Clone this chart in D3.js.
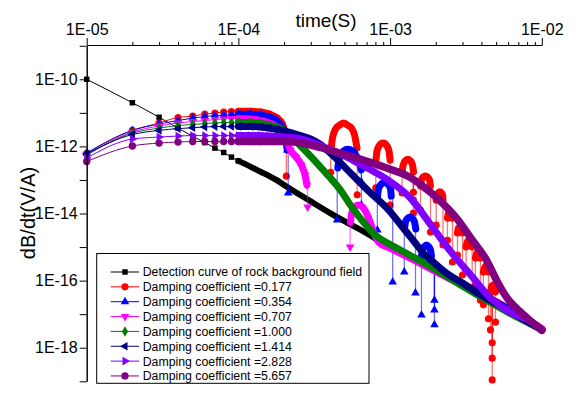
<!DOCTYPE html>
<html>
<head>
<meta charset="utf-8">
<script src="https://cdn.jsdelivr.net/npm/d3@7"></script>
<style>
  body { margin: 0; background: #fff; }
  svg { display: block; font-family: "Liberation Sans", Arial, sans-serif; }
</style>
</head>
<body>
<svg id="chart"></svg>
<script>
const width = 575;
const height = 395;

// ---------------- DATA (time in s, dB/dt in V/A) ----------------
const xTicks = [1e-5, 1e-4, 1e-3, 1e-2];
const yLabelTicks = [1e-10, 1e-12, 1e-14, 1e-16, 1e-18];

const legendNames = [
  "Detection curve of rock background field",
  "Damping coefficient =0.177",
  "Damping coefficient =0.354",
  "Damping coefficient =0.707",
  "Damping coefficient =1.000",
  "Damping coefficient =1.414",
  "Damping coefficient =2.828",
  "Damping coefficient =5.657"
];

// background field
const bgPts = [[1e-5,1.0e-10],[2e-5,2.0e-11],[3e-5,7.4e-12],[4e-5,3.5e-12],[5e-5,2.0e-12],[6e-5,1.3e-12],
  [7e-5,8.9e-13],[8e-5,6.6e-13],[9e-5,4.8e-13],[1e-4,3.7e-13]];
const bgTail = [[1.2e-4,2.5e-13],[1.4e-4,1.76e-13],[1.6e-4,1.31e-13],[1.8e-4,9.7e-14],[2e-4,7.1e-14],
  [3e-4,2.3e-14],[4e-4,1.05e-14],[5e-4,5.9e-15],[7e-4,2.6e-15],[1e-3,9.4e-16],[1.5e-3,3.8e-16],
  [2e-3,2.07e-16],[3e-3,7.9e-17],[5e-3,2.3e-17],[7e-3,1.0e-17],[1e-2,3.6e-18]];

// 0.177
const redPts = [[1e-5,6.2e-13],[2e-5,3.0e-12],[3e-5,5.0e-12],[4e-5,7.3e-12],[5e-5,8.0e-12],[6e-5,9.2e-12],
  [7e-5,9.9e-12],[8e-5,1.06e-11],[9e-5,1.1e-11],[1e-4,1.11e-11],[1.2e-4,1.11e-11],[1.4e-4,1.06e-11],
  [1.6e-4,9.2e-12],[1.8e-4,7.0e-12],[1.95e-4,4.65e-12],[2.03e-4,2.7e-12]];
const redLobes = [
  [[4.08e-4,7.8e-13],[4.17e-4,1.78e-12],[4.37e-4,3.3e-12],[4.64e-4,4.3e-12],[4.93e-4,5.0e-12],[5.24e-4,4.3e-12],[5.57e-4,3.5e-12],[5.83e-4,2.19e-12],[6.05e-4,8.95e-13]],
  [[8.07e-4,3.9e-13],[8.2e-4,7.3e-13],[8.45e-4,1.03e-12],[8.98e-4,1.26e-12],[9.54e-4,1.03e-12],[9.83e-4,7.3e-13],[1.0e-3,3.9e-13]],
  [[1.2e-3,1.73e-13],[1.22e-3,2.79e-13],[1.254e-3,3.67e-13],[1.308e-3,4.13e-13],[1.363e-3,3.67e-13],[1.405e-3,2.79e-13],[1.427e-3,1.73e-13]],
  [[1.586e-3,6.6e-14],[1.61e-3,1.0e-13],[1.647e-3,1.22e-13],[1.706e-3,1.31e-13],[1.764e-3,1.22e-13],[1.818e-3,1.0e-13],[1.846e-3,6.6e-14]],
  [[2.012e-3,2.5e-14],[2.037e-3,3.6e-14],[2.084e-3,4.2e-14],[2.126e-3,4.47e-14],[2.175e-3,4.2e-14],[2.215e-3,3.6e-14],[2.232e-3,2.5e-14]],
  [[2.388e-3,7.3e-15],[2.425e-3,1.03e-14],[2.481e-3,1.13e-14],[2.538e-3,1.03e-14],[2.577e-3,7.3e-15]],
  [[2.78e-3,2.62e-15],[2.822e-3,3.7e-15],[2.887e-3,4.05e-15],[2.953e-3,3.7e-15],[3.0e-3,2.62e-15]],
  [[3.17e-3,1.0e-15],[3.22e-3,1.42e-15],[3.32e-3,1.6e-15],[3.42e-3,1.42e-15],[3.475e-3,1.0e-15]],
  [[3.65e-3,4.7e-16],[3.71e-3,6.2e-16],[3.79e-3,7.1e-16],[3.88e-3,6.2e-16],[3.94e-3,4.7e-16]],
  [[4.12e-3,1.8e-16],[4.19e-3,2.37e-16],[4.28e-3,2.72e-16],[4.38e-3,2.37e-16],[4.45e-3,1.8e-16]],
  [[4.59e-3,4.6e-17],[4.66e-3,6.4e-17],[4.76e-3,7.4e-17],[4.87e-3,6.4e-17],[4.95e-3,4.6e-17]],
  [[5.0e-3,2.4e-17],[6e-3,1.5e-17],[7e-3,1.05e-17],[1e-2,3.7e-18]]
];
// [time, top, bottom]
const redSpikes = [[2.07e-4,2.7e-12,1.3e-13],[4.06e-4,7.8e-13,1.7e-13],[6.07e-4,8.95e-13,3.6e-14],
  [8.05e-4,3.9e-13,5.8e-14],[1.0e-3,3.9e-13,1.8e-14],[1.2e-3,1.73e-13,4.1e-14],[1.425e-3,1.73e-13,4.3e-14],
  [1.425e-3,1.73e-13,2.5e-14],[1.425e-3,1.73e-13,1.03e-14],[1.586e-3,6.6e-14,1.27e-14],[1.846e-3,6.6e-14,2.8e-15],
  [2.012e-3,2.5e-14,4.5e-15],[2.232e-3,2.5e-14,1.15e-15],[2.388e-3,7.3e-15,1.6e-15],[2.577e-3,7.3e-15,3.6e-16],
  [2.78e-3,2.62e-15,5.8e-16],[3.0e-3,2.62e-15,1.47e-16],[3.17e-3,1.0e-15,2.07e-16],[3.475e-3,1.0e-15,5.2e-17],
  [3.65e-3,4.7e-16,7.4e-17],[3.94e-3,4.7e-16,2.6e-17],[4.12e-3,1.8e-16,1.9e-17],[4.45e-3,1.8e-16,7.3e-18],
  [4.59e-3,4.6e-17,3.4e-18],[4.71e-3,6.4e-17,1.4e-18],[4.71e-3,6.4e-17,4.9e-19],[4.71e-3,6.4e-17,1.1e-19],
  [4.95e-3,4.6e-17,5.8e-18]];

// 0.354
const bluePts = [[1e-5,6.4e-13],[2e-5,3.0e-12],[3e-5,4.65e-12],[4e-5,5.9e-12],[5e-5,7.0e-12],[6e-5,7.8e-12],
  [7e-5,8.3e-12],[8e-5,8.6e-12],[9e-5,8.9e-12],[1e-4,9.1e-12],[1.2e-4,9.1e-12],[1.4e-4,8.6e-12],
  [1.6e-4,7.5e-12],[1.8e-4,5.7e-12],[1.95e-4,3.5e-12],[2.05e-4,1.55e-12],[2.1e-4,7.8e-13]];
const blueLobes = [
  [[4.52e-4,2.27e-13],[4.64e-4,4.5e-13],[4.86e-4,6.8e-13],[5.24e-4,8.2e-13],[5.65e-4,7.3e-13],[6.0e-4,5.2e-13],[6.29e-4,3.2e-13],[6.45e-4,2.0e-13]],
  [[8.26e-4,3.3e-14],[8.39e-4,5.4e-14],[8.65e-4,7.1e-14],[9.19e-4,8.4e-14],[9.76e-4,7.1e-14],[1.006e-3,5.4e-14],[1.017e-3,3.3e-14]],
  [[1.244e-3,3.45e-15],[1.263e-3,5.6e-15],[1.302e-3,7.1e-15],[1.352e-3,7.9e-15],[1.405e-3,7.1e-15],[1.448e-3,5.6e-15],[1.477e-3,3.45e-15]],
  [[1.61e-3,5.4e-16],[1.635e-3,8.2e-16],[1.685e-3,1.04e-15],[1.738e-3,1.15e-15],[1.791e-3,1.04e-15],[1.846e-3,8.2e-16],[1.874e-3,5.4e-16]],
  [[2.1e-3,2.0e-16],[3e-3,8.0e-17],[5e-3,2.25e-17],[7e-3,1.0e-17],[1e-2,3.6e-18]]
];
const blueSpikes = [[2.13e-4,7.8e-13,4.1e-14],[4.48e-4,2.27e-13,6.4e-15],[6.47e-4,2.0e-13,8.7e-14],
  [6.47e-4,2.0e-13,1.8e-14],[8.24e-4,3.3e-14,3.2e-15],[1.04e-3,3.3e-14,9.1e-17],[1.24e-3,3.45e-15,1.8e-16],
  [1.47e-3,3.45e-15,4.3e-17],[1.61e-3,5.4e-16,9.4e-18],[1.96e-3,2.6e-16,2.6e-17],[1.96e-3,2.6e-16,1.33e-17],
  [1.96e-3,2.6e-16,4.8e-18]];

// 0.707
const magentaPts = [[1e-5,5.5e-13],[2e-5,2.7e-12],[3e-5,4.05e-12],[4e-5,5.0e-12],[5e-5,5.5e-12],[6e-5,5.9e-12],
  [7e-5,6.3e-12],[8e-5,6.6e-12],[9e-5,6.8e-12],[1e-4,6.8e-12],[1.2e-4,6.6e-12],[1.4e-4,5.9e-12],
  [1.6e-4,5.0e-12],[1.8e-4,3.8e-12],[2e-4,2.34e-12],[2.2e-4,7.8e-13],[2.4e-4,4.8e-13],[2.6e-4,2.8e-13],
  [2.75e-4,1.4e-13],[2.83e-4,7.1e-14]];
const magentaLobes = [
  [[5.48e-4,5.6e-15],[5.61e-4,1.11e-14],[5.83e-4,1.56e-14],[6.19e-4,1.8e-14],[6.58e-4,1.56e-14],[6.99e-4,1.03e-14],
   [7.43e-4,5.2e-15],[7.89e-4,2.3e-15],[8.51e-4,1.32e-15],[9.91e-4,9.4e-16],[1.5e-3,3.7e-16],[2e-3,1.85e-16],
   [3e-3,7.2e-17],[5e-3,2.05e-17],[7e-3,9.5e-18],[1e-2,3.6e-18]]
];
const magentaSpikes = [[2.86e-4,7.1e-14,1.56e-14],[5.45e-4,5.6e-15,1.0e-15]];

// 1.000
const greenPts = [[1e-5,5.5e-13],[2e-5,2.5e-12],[3e-5,3.5e-12],[4e-5,4.2e-12],[5e-5,4.5e-12],[6e-5,4.8e-12],
  [7e-5,5.0e-12],[8e-5,5.15e-12],[9e-5,5.2e-12],[1e-4,5.2e-12],[1.2e-4,5.15e-12],[1.4e-4,4.8e-12],
  [1.6e-4,4.3e-12],[1.8e-4,3.65e-12],[2e-4,2.9e-12]];
const greenTail = [[2.3e-4,1.66e-12],[2.65e-4,8.95e-13],[3.43e-4,2.6e-13],[3.99e-4,1.22e-13],[4.64e-4,5.4e-14],
  [5.65e-4,1.46e-14],[6.58e-4,6.0e-15],[7.32e-4,3.45e-15],[8.14e-4,2.13e-15],[9.91e-4,1.23e-15],
  [1.342e-3,5.8e-16],[1.818e-3,2.72e-16],[2.462e-3,1.19e-16],[3.88e-3,3.47e-17],[6.12e-3,1.08e-17],[1e-2,3.5e-18]];

// 1.414
const navyPts = [[1e-5,6.0e-13],[2e-5,2.26e-12],[3e-5,3.0e-12],[4e-5,3.4e-12],[5e-5,3.6e-12],[6e-5,3.8e-12],
  [7e-5,3.9e-12],[8e-5,3.92e-12],[9e-5,3.92e-12],[1e-4,3.92e-12],[1.2e-4,3.92e-12],[1.4e-4,3.8e-12],
  [1.6e-4,3.5e-12],[1.8e-4,3.2e-12],[2e-4,2.9e-12]];
const navyTail = [[2.5e-4,2.19e-12],[2.99e-4,1.66e-12],[3.43e-4,1.18e-12],[4.37e-4,4.5e-13],[5.65e-4,1.4e-13],
  [7.32e-4,4.4e-14],[9.67e-4,1.36e-14],[1.207e-3,3.96e-15],[1.448e-3,1.42e-15],[1.66e-3,6.65e-16],
  [1.96e-3,3.35e-16],[2.35e-3,1.69e-16],[3.0e-3,8.5e-17],[3.88e-3,4.0e-17],[5.5e-3,1.63e-17],[1e-2,3.4e-18]];

// 2.828
const violetPts = [[1e-5,4.5e-13],[2e-5,1.66e-12],[3e-5,1.9e-12],[4e-5,2.04e-12],[5e-5,2.1e-12],[6e-5,2.1e-12],
  [7e-5,2.1e-12],[8e-5,2.1e-12],[9e-5,2.1e-12],[1e-4,2.1e-12],[1.2e-4,2.1e-12],[1.4e-4,2.1e-12],
  [1.6e-4,2.04e-12],[1.8e-4,1.97e-12],[2e-4,1.9e-12]];
const violetTail = [[2.5e-4,1.72e-12],[3.81e-4,8.95e-13],[5.01e-4,5.2e-13],[6.29e-4,3.0e-13],[7.89e-4,1.73e-13],
  [9.91e-4,9.3e-14],[1.342e-3,3.1e-14],[1.818e-3,5.2e-15],[2.462e-3,8.2e-16],[2.866e-3,3.6e-16],
  [3.49e-3,1.28e-16],[4.52e-3,3.24e-17],[6.12e-3,1.16e-17],[8.29e-3,6.3e-18],[1e-2,3.3e-18]];

// 5.657
const purplePts = [[1e-5,3.55e-13],[2e-5,1.03e-12],[3e-5,1.26e-12],[4e-5,1.35e-12],[5e-5,1.4e-12],[6e-5,1.4e-12],
  [7e-5,1.4e-12],[8e-5,1.4e-12],[9e-5,1.4e-12],[1e-4,1.4e-12],[1.2e-4,1.4e-12],[1.4e-4,1.4e-12],
  [1.6e-4,1.4e-12],[1.8e-4,1.4e-12],[2e-4,1.4e-12]];
const purpleTail = [[2.5e-4,1.3e-12],[3e-4,1.1e-12],[3.99e-4,7.8e-13],[5.4e-4,5.2e-13],[7.32e-4,3.4e-13],
  [9.91e-4,2.12e-13],[1.342e-3,1.22e-13],[1.635e-3,6.6e-14],[2.115e-3,2.5e-14],[2.74e-3,7.3e-15],
  [3.49e-3,1.6e-15],[4.32e-3,4.1e-16],[5.02e-3,1.05e-16],[5.85e-3,3.24e-17],[7.12e-3,1.24e-17],
  [8.29e-3,6.7e-18],[1e-2,3.3e-18]];

// ---------------- SERIES SETUP ----------------
const series = [
  { color: "#000000", sym: d3.symbolSquare,   rot: 0,   size: 30, band: 6,   pts: bgPts,      tail: bgTail },
  { color: "#ff0000", sym: d3.symbolCircle,   rot: 0,   size: 40, band: 7,   pts: redPts,     lobes: redLobes,     spikes: redSpikes },
  { color: "#0000ff", sym: d3.symbolTriangle, rot: 0,   size: 32, band: 7,   pts: bluePts,    lobes: blueLobes,    spikes: blueSpikes },
  { color: "#ff00ff", sym: d3.symbolTriangle, rot: 180, size: 32, band: 7,   pts: magentaPts, lobes: magentaLobes, spikes: magentaSpikes },
  { color: "#008000", sym: d3.symbolDiamond,  rot: 0,   size: 32, band: 7,   pts: greenPts,   tail: greenTail },
  { color: "#000080", sym: d3.symbolTriangle, rot: -90, size: 32, band: 7,   pts: navyPts,    tail: navyTail },
  { color: "#8000ff", sym: d3.symbolTriangle, rot: 90,  size: 32, band: 7,   pts: violetPts,  tail: violetTail },
  { color: "#800080", sym: d3.symbolCircle,   rot: 0,   size: 42, band: 7.5, pts: purplePts,  tail: purpleTail }
];

const svg = d3.select("#chart")
  .attr("width", width)
  .attr("height", height)
  .attr("viewBox", [0, 0, width, height]);

const x = d3.scaleLog().domain([1e-5, 1e-2]).range([86.7, 541.8]);
const y = d3.scaleLog().domain([1e-19, 1e-9]).range([381.3, 45.75]);

const expFmt = v => {
  const e = Math.round(Math.log10(v));
  return "1E-" + String(-e).padStart(2, "0");
};
const isDecade = v => Math.abs(Math.log10(v) - Math.round(Math.log10(v))) < 1e-6;

// ---------------- CURVES ----------------
const line = d3.line()
  .x(d => x(d[0]))
  .y(d => y(d[1]))
  .curve(d3.curveMonotoneX);

const plot = svg.append("g");

series.forEach(s => {
  const g = plot.append("g");
  const full = s.tail ? s.pts.concat(s.tail) : s.pts;

  // dense markers merge into a thick band after ~1e-4 s
  const band = full.filter(d => d[0] >= 1e-4);
  const bands = [band].concat(s.lobes || []);
  bands.forEach(b => {
    g.append("path")
      .attr("d", line(b))
      .attr("fill", "none")
      .attr("stroke", s.color)
      .attr("stroke-width", s.band)
      .attr("stroke-linecap", "round")
      .attr("stroke-linejoin", "round");
  });

  g.append("path")
    .attr("d", line(full))
    .attr("fill", "none")
    .attr("stroke", s.color)
    .attr("stroke-width", 1);

  // zero crossings of the oscillation -> spikes
  if (s.spikes) {
    g.selectAll("line.spike")
      .data(s.spikes)
      .join("line")
      .attr("class", "spike")
      .attr("x1", d => x(d[0])).attr("x2", d => x(d[0]))
      .attr("y1", d => y(d[1])).attr("y2", d => y(d[2]))
      .attr("stroke", s.color)
      .attr("stroke-opacity", 0.55)
      .attr("stroke-width", 1.3);
  }

  const marks = s.pts.concat((s.spikes || []).map(d => [d[0], d[2]]));
  g.selectAll("path.mark")
    .data(marks)
    .join("path")
    .attr("class", "mark")
    .attr("transform", d => `translate(${x(d[0])},${y(d[1])}) rotate(${s.rot})`)
    .attr("d", d3.symbol(s.sym, s.size))
    .attr("fill", s.color);
});

// ---------------- AXES ----------------
const xMinor = x.ticks().filter(v => !isDecade(v));
const yAll = y.ticks();
const yMajor = yAll.filter(isDecade);
const yMinor = yAll.filter(v => !isDecade(v));

const xAxisG = svg.append("g").attr("transform", "translate(0,45)");
xAxisG.call(d3.axisTop(x).tickValues(xMinor).tickSize(3).tickSizeOuter(0).tickFormat(""));
xAxisG.append("g").call(d3.axisTop(x).tickValues(xTicks).tickSize(7).tickSizeOuter(0)
  .tickPadding(3).tickFormat(expFmt));

const yAxisG = svg.append("g").attr("transform", "translate(86.7,0)");
yAxisG.call(d3.axisLeft(y).tickValues(yMinor).tickSize(4).tickSizeOuter(0).tickFormat(""));
yAxisG.append("g").call(d3.axisLeft(y).tickValues(yMajor).tickSize(7).tickSizeOuter(0)
  .tickPadding(2)
  .tickFormat(v => yLabelTicks.some(t => Math.abs(Math.log10(t) - Math.log10(v)) < 1e-6) ? expFmt(v) : ""));

svg.selectAll(".tick text")
  .attr("fill", "#000")
  .style("font-size", "16px")
  .style("font-family", "'Liberation Sans', Arial, sans-serif");
svg.selectAll(".domain, .tick line").attr("stroke", "#000");

// Axis titles
svg.append("text")
  .attr("x", 326)
  .attr("y", 27)
  .attr("text-anchor", "middle")
  .style("font-size", "19px")
  .text("time(S)");

svg.append("text")
  .attr("transform", "translate(35,213) rotate(-90)")
  .attr("text-anchor", "middle")
  .style("font-size", "20px")
  .text("dB/dt(V/A)");

// ---------------- LEGEND ----------------
const legend = svg.append("g");
legend.append("rect")
  .attr("x", 96.7).attr("y", 253.5)
  .attr("width", 272.3).attr("height", 129.8)
  .attr("fill", "#fff")
  .attr("stroke", "#000")
  .attr("stroke-width", 1);

series.forEach((s, i) => {
  const cy = 272 + i * 14.85;
  const item = legend.append("g");
  item.append("line")
    .attr("x1", 110.7).attr("x2", 139)
    .attr("y1", cy).attr("y2", cy)
    .attr("stroke", s.color)
    .attr("stroke-width", 1);
  item.append("path")
    .attr("transform", `translate(125,${cy}) rotate(${s.rot})`)
    .attr("d", d3.symbol(s.sym, s.size))
    .attr("fill", s.color);
  item.append("text")
    .attr("x", 142.7)
    .attr("y", cy)
    .attr("dy", "0.36em")
    .style("font-size", "12.3px")
    .text(legendNames[i]);
});
</script>
</body>
</html>
